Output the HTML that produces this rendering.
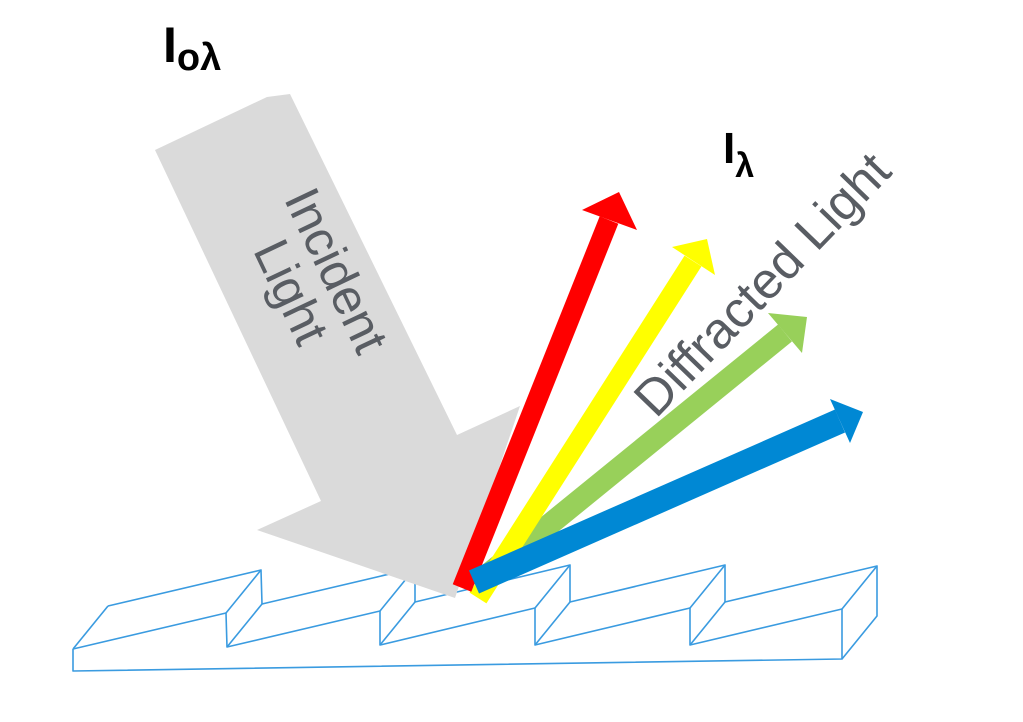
<!DOCTYPE html>
<html><head><meta charset="utf-8"><style>
html,body{margin:0;padding:0;background:#fff;}
svg{display:block;}
</style></head><body>
<svg width="1023" height="722" viewBox="0 0 1023 722" xmlns="http://www.w3.org/2000/svg">
<rect width="1023" height="722" fill="#fff"/>
<!-- grating -->
<g fill="none" stroke="#3a9be0" stroke-width="1.6" stroke-linejoin="round">
<polyline points="73,649 226,613 227,647 380,611 380,645 535,608 535,645 690,608 690,645 842,609 842,659 73,671 73,649"/>
<polyline points="108,606 261,570 262,604 415,568 415,602 570,565 570,602 725,565 725,602 877,566 877,616 842,659"/>
<line x1="73" y1="649" x2="108" y2="606"/>
<line x1="226" y1="613" x2="261" y2="570"/>
<line x1="227" y1="647" x2="262" y2="604"/>
<line x1="380" y1="611" x2="415" y2="568"/>
<line x1="380" y1="645" x2="415" y2="602"/>
<line x1="535" y1="608" x2="570" y2="565"/>
<line x1="535" y1="645" x2="570" y2="602"/>
<line x1="690" y1="608" x2="725" y2="565"/>
<line x1="690" y1="645" x2="725" y2="602"/>
<line x1="842" y1="609" x2="877" y2="566"/>
</g>
<!-- incident arrow -->
<polygon points="155,150 267,97 290,94 457,435 520,406 455,598 257,530 321,501" fill="#dadada"/>
<g font-family="Liberation Sans, sans-serif" font-size="50" fill="#595d63" text-anchor="middle">
<text transform="translate(312,282) rotate(64.6)"><tspan x="0" y="-10">Incident</tspan><tspan x="0" y="40">Light</tspan></text>
</g>
<!-- diffracted arrows -->
<g stroke-linecap="butt">
<line x1="475" y1="585" x2="785" y2="333" stroke="#98d05a" stroke-width="22"/>
<polygon points="768,313 807,317 802,353" fill="#98d05a"/>
<line x1="478" y1="598" x2="693" y2="261" stroke="#ffff00" stroke-width="20"/>
<polygon points="672,247 707,239 715,275" fill="#ffff00"/>
<line x1="462" y1="588" x2="609" y2="220" stroke="#ff0000" stroke-width="20"/>
<polygon points="582,210 619,192 637,230" fill="#ff0000"/>
<line x1="474" y1="582" x2="840" y2="421" stroke="#0088d4" stroke-width="25"/>
<polygon points="830,399 863,412 850,443" fill="#0088d4"/>
</g>
<text transform="translate(765,287) rotate(-46)" font-family="Liberation Sans, sans-serif" font-size="51" fill="#595d63" text-anchor="middle" dominant-baseline="middle">Diffracted Light</text>
<!-- labels -->
<text x="163" y="62" font-family="Liberation Sans, sans-serif" font-weight="bold" font-size="50" fill="#000">I<tspan font-size="38" dy="8">oλ</tspan></text>
<text x="723" y="163" font-family="Liberation Sans, sans-serif" font-weight="bold" font-size="44" fill="#000">I<tspan font-size="34" dy="14">λ</tspan></text>
</svg>
</body></html>
